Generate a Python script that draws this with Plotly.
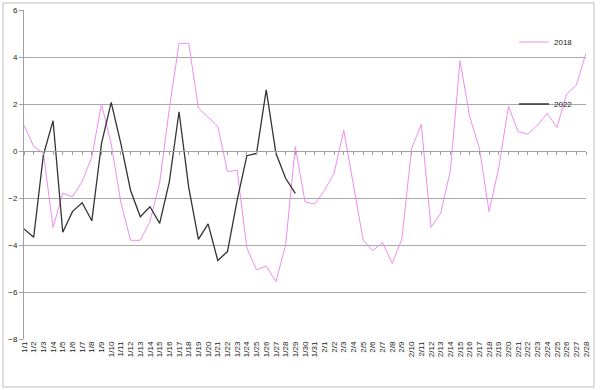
import plotly.graph_objects as go

dates = [f"1/{d}" for d in range(1, 32)] + [f"2/{d}" for d in range(1, 29)]

y2018 = [1.1, 0.2, -0.1, -3.25, -1.8, -1.95, -1.3, -0.25, 2.0, 0.3,
         -2.2, -3.8, -3.8, -3.0, -1.35, 1.8, 4.58, 4.58, 1.83, 1.46,
         1.05, -0.88, -0.82, -4.13, -5.06, -4.9, -5.56, -4.0, 0.18, -2.16,
         -2.26, -1.68, -0.95, 0.89, -1.52, -3.79, -4.24, -3.9, -4.78, -3.74,
         0.11, 1.13, -3.25, -2.65, -0.85, 3.84, 1.46, 0.11, -2.58, -0.7,
         1.9, 0.82, 0.72, 1.1, 1.6, 1.0, 2.42, 2.8, 4.16]

y2022 = [-3.32, -3.67, -0.17, 1.29, -3.46, -2.58, -2.2, -2.97, 0.33, 2.07,
         0.3, -1.68, -2.8, -2.37, -3.08, -1.3, 1.67, -1.55, -3.76, -3.1,
         -4.66, -4.28, -2.09, -0.2, -0.1, 2.6, -0.1, -1.16, -1.8]

grid_vals = [-6, -4, -2, 2, 4]

font_fam = "Arial, Liberation Sans, sans-serif"

fig = go.Figure()
fig.add_trace(go.Scatter(x=dates, y=y2018, mode="lines", name="2018",
                         line=dict(color="#f08cf0", width=1), legend="legend"))
fig.add_trace(go.Scatter(x=dates[:len(y2022)], y=y2022, mode="lines", name="2022",
                         line=dict(color="#333333", width=1.3), legend="legend2"))
# helper traces so overlay axes get drawn
fig.add_trace(go.Scatter(x=dates, y=[None] * len(dates), yaxis="y2", showlegend=False,
                         hoverinfo="skip", mode="lines"))
fig.add_trace(go.Scatter(x=dates, y=[None] * len(dates), xaxis="x2", showlegend=False,
                         hoverinfo="skip", mode="lines"))

fig.update_layout(
    width=600, height=390,
    margin=dict(l=24, r=14, t=10, b=51),
    paper_bgcolor="white", plot_bgcolor="rgba(0,0,0,0)",
    font=dict(family=font_fam, size=8, color="#222"),
    xaxis=dict(type="category", categoryorder="array", categoryarray=dates,
               range=[0, len(dates) - 1], showgrid=False, showline=False,
               zeroline=False, tickangle=-90, ticks="", automargin=False,
               tickmode="linear", dtick=1,
               tickfont=dict(size=8, color="#222")),
    xaxis2=dict(type="category", categoryorder="array", categoryarray=dates,
                range=[0, len(dates) - 1], overlaying="x", anchor="free",
                position=8 / 14, showline=True, linecolor="#a0a0a0", linewidth=1,
                ticks="outside", ticklen=3, tickcolor="#a0a0a0",
                tickmode="linear", dtick=1,
                showticklabels=False, showgrid=False, zeroline=False),
    yaxis=dict(range=[-8, 6], dtick=2, showgrid=False, zeroline=False,
               showline=True, linecolor="#a0a0a0", linewidth=1,
               ticks="outside", ticklen=4, tickcolor="#a0a0a0",
               tickfont=dict(size=8, color="#222"), automargin=False),
    yaxis2=dict(range=[-8, 6], overlaying="y", tickvals=grid_vals,
                showticklabels=False, showgrid=True, gridcolor="#a8a8a8",
                gridwidth=1, zeroline=False, showline=False, ticks=""),
    legend=dict(x=(514 - 24) / 562, y=(339 - 42) / 329, xanchor="left",
                yanchor="middle", bgcolor="rgba(0,0,0,0)",
                font=dict(size=8, color="#222")),
    legend2=dict(x=(514 - 24) / 562, y=(339 - 104) / 329, xanchor="left",
                 yanchor="middle", bgcolor="rgba(0,0,0,0)",
                 font=dict(size=8, color="#222")),
    shapes=[dict(type="rect", xref="paper", yref="paper",
                 x0=-21 / 562, x1=(594 - 24) / 562,
                 y0=(339 - 387) / 329, y1=(339 - 3) / 329,
                 line=dict(color="#d4d4d4", width=1.5), layer="below")],
)

fig.write_html("out.html")
